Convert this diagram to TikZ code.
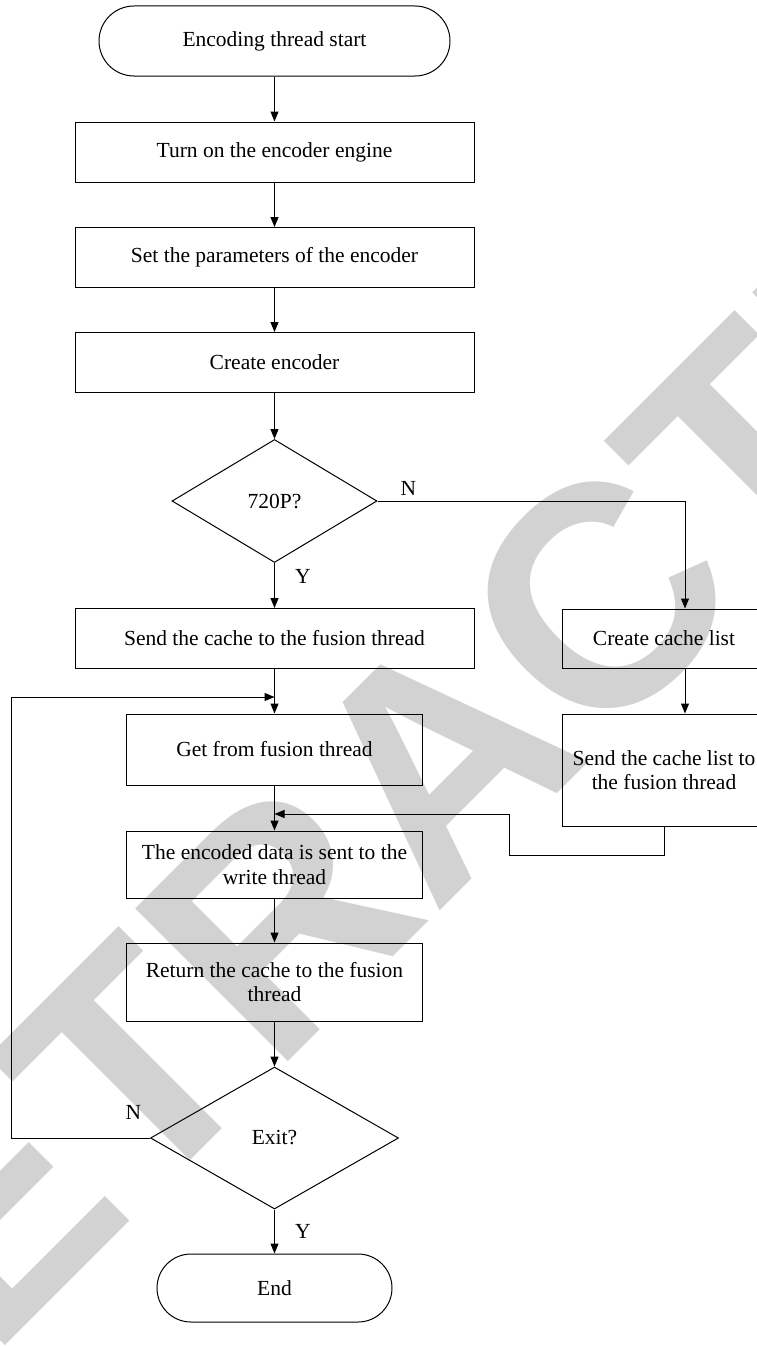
\documentclass[tikz,border=0pt]{standalone}
\usepackage{fontspec}
\setmainfont{Liberation Serif}
\newfontfamily\wmfont{Liberation Sans}
\usetikzlibrary{shapes.geometric,arrows.meta}

\begin{document}
\begin{tikzpicture}[x=1pt,y=-1pt,
    every node/.style={font=\fontsize{21.5}{24.5}\selectfont},
    box/.style={draw,line width=1pt,rectangle,align=center,inner sep=2pt},
    term/.style={draw,line width=1pt,rectangle,rounded corners=34pt},
    decision/.style={draw,line width=1pt,diamond,inner sep=0pt},
    arr/.style={line width=1pt,-{Triangle[length=10pt,width=8pt]}},
    lbl/.style={inner sep=0pt},
    wm/.style={font=\wmfont\bfseries\fontsize{314}{314}\selectfont,text=gray!35,rotate=45,inner sep=0pt}]
    \useasboundingbox (0,0) rectangle (757,1346);
    \clip (0,0) rectangle (757,1346);
    % watermark behind the chart
    \node[wm] (stamp) at (438,760) {RETRACTED};
    % main column
    \node[term,minimum width=351pt,minimum height=70pt,rounded corners=35pt] (start) at (274.5,41) {Encoding thread start};
    \node[box,minimum width=399pt,minimum height=60pt] (engine) at (274.5,152) {Turn on the encoder engine};
    \node[box,minimum width=399pt,minimum height=60pt] (param) at (274.5,257.5) {Set the parameters of the encoder};
    \node[box,minimum width=399pt,minimum height=60pt] (create) at (274.5,362.5) {Create encoder};
    \node[decision,minimum width=205pt,minimum height=123pt] (res) at (274.5,501) {720P?};
    \node[box,minimum width=399pt,minimum height=60pt] (send) at (274.5,638.5) {Send the cache to the fusion thread};
    \node[box,minimum width=296pt,minimum height=71pt] (get) at (274.5,749.5) {Get from fusion thread};
    \node[box,minimum width=296pt,minimum height=67pt] (write) at (274.5,864.5) {The encoded data is sent to the\\write thread};
    \node[box,minimum width=296pt,minimum height=78pt] (ret) at (274.5,982) {Return the cache to the fusion\\thread};
    \node[decision,minimum width=248pt,minimum height=142pt] (exit) at (274.5,1138) {Exit?};
    \node[term,minimum width=235pt,minimum height=68pt] (end) at (274.5,1288) {End};
    % right column
    \node[box,minimum width=204pt,minimum height=59pt] (list) at (664,638.5) {Create cache list};
    \node[box,minimum width=204pt,minimum height=112pt] (sendlist) at (664,770) {Send the cache list to\\the fusion thread};
    % branch labels
    \node[lbl] (n1) at ([shift={(31,-13)}]res.east) {N};
    \node[lbl] (y1) at ([shift={(28.5,13.5)}]res.south) {Y};
    \node[lbl] (n2) at ([shift={(-16.5,-26)}]exit.west) {N};
    \node[lbl] (y2) at ([shift={(28.5,22)}]exit.south) {Y};
    \coordinate (nturn) at (685,501);
    \coordinate (loop) at (11,697);
    \coordinate (back) at (509,855);
    \coordinate (join) at (274.5,814);
    % connectors
    \draw[arr] (start.south) -- (engine.north);
    \draw[arr] (engine.south) -- (param.north);
    \draw[arr] (param.south) -- (create.north);
    \draw[arr] (create.south) -- (res.north);
    \draw[arr] (res.south) -- (send.north);
    \draw[arr] (res.east) -- (nturn) -- (nturn |- list.north);
    \draw[arr] (nturn |- list.south) -- (nturn |- sendlist.north);
    \draw[arr] (send.south) -- (get.north);
    \draw[arr] (get.south) -- (write.north);
    \draw[arr] (write.south) -- (ret.north);
    \draw[arr] (ret.south) -- (exit.north);
    \draw[arr] (exit.south) -- (end.north);
    \draw[arr] (exit.west) -| (loop) -- (loop -| get.north);
    \draw[arr] (sendlist.south) |- (back) |- (join);
\end{tikzpicture}
\end{document}
